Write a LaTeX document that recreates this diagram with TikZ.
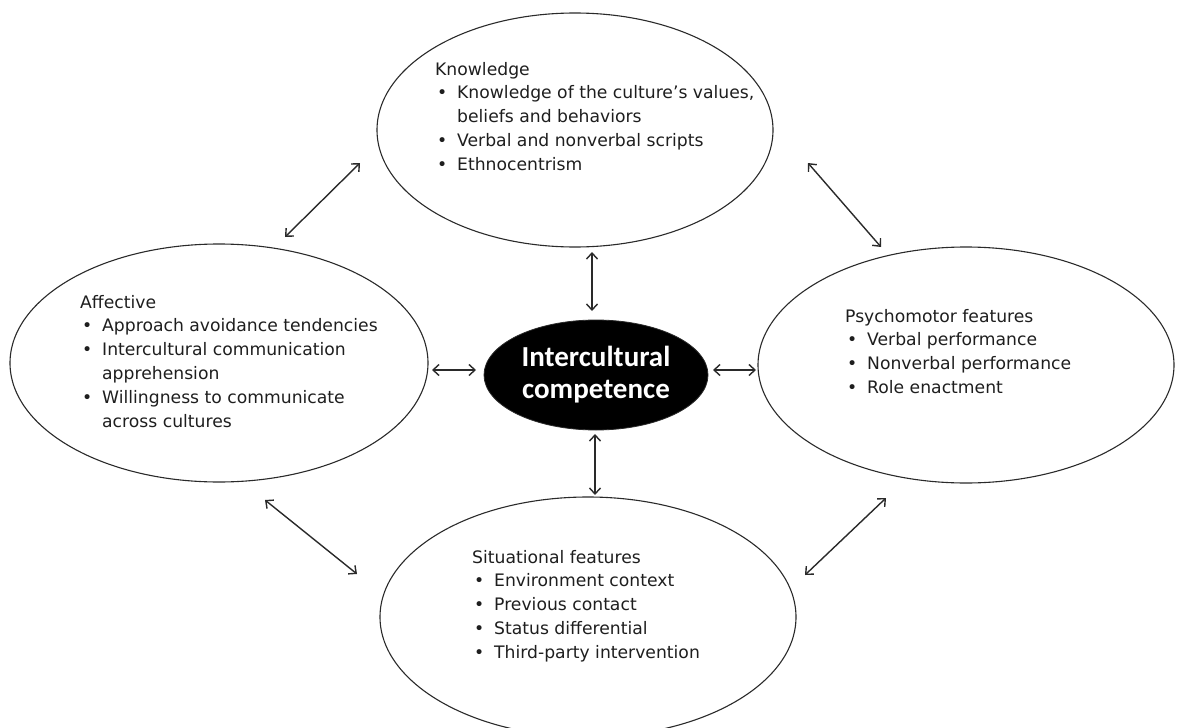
\documentclass[tikz,border=0pt]{standalone}
\usepackage{fontspec}
\setmainfont{DejaVu Sans}
\newfontfamily\corefont{Carlito}
\usetikzlibrary{shapes.geometric,arrows.meta}

\definecolor{ink}{HTML}{1E1E1E}
\definecolor{rim}{HTML}{2A2A2A}

% a heading followed by bulleted lines; the first baseline is the node's base
\newcommand\featlist[2]{%
  \begin{tabular}[t]{@{\hspace{2pt}}p{20pt}@{}l@{}}
    \multicolumn{2}{@{}l@{}}{#1}\\
    #2
  \end{tabular}}
\newcommand\bitem{\textbullet}

\tikzset{
  area/.style={draw=rim, line width=1.1pt, ellipse, inner sep=0pt},
  core/.style={ellipse, fill=black, draw=rim, line width=0.8pt, inner sep=0pt,
    minimum width=224pt, minimum height=110pt, text=white, align=center,
    font=\corefont\fontsize{29}{32}\selectfont\bfseries},
  listtext/.style={anchor=base west, inner sep=0pt, text=ink,
    font=\fontsize{17.2}{23.8}\selectfont},
  link/.style={draw=rim, line width=1.4pt,
    {Straight Barb[length=6pt,width=11pt]}-{Straight Barb[length=6pt,width=11pt]}}
}

\begin{document}
\begin{tikzpicture}[x=1pt,y=-1pt]
\useasboundingbox (0,0) rectangle (1179,728);

% surrounding areas
\node[area, minimum width=396pt, minimum height=234pt] (know) at (575,130) {};
\node[area, minimum width=418pt, minimum height=238pt] (aff)  at (219,363) {};
\node[area, minimum width=416pt, minimum height=236pt] (psy)  at (966,365) {};
\node[area, minimum width=416pt, minimum height=240pt] (sit)  at (588,617) {};

% central concept
\node[core] (core) at (596,375) {Intercultural\\competence};

% lists inside the areas
\node[listtext] (knowtxt) at (435,75) {\featlist{Knowledge}{%
  \bitem & Knowledge of the culture’s values,\\
         & beliefs and behaviors\\
  \bitem & Verbal and nonverbal scripts\\
  \bitem & Ethnocentrism\\}};
\node[listtext] (afftxt) at (80,308) {\featlist{Affective}{%
  \bitem & Approach avoidance tendencies\\
  \bitem & Intercultural communication\\
         & apprehension\\
  \bitem & Willingness to communicate\\
         & across cultures\\}};
\node[listtext] (psytxt) at (845,322) {\featlist{Psychomotor features}{%
  \bitem & Verbal performance\\
  \bitem & Nonverbal performance\\
  \bitem & Role enactment\\}};
\node[listtext] (sittxt) at (472,563) {\featlist{Situational features}{%
  \bitem & Environment context\\
  \bitem & Previous contact\\
  \bitem & Status differential\\
  \bitem & Third-party intervention\\}};

% connector end points
\coordinate (kc1) at (592,252); \coordinate (kc2) at (592,311);
\coordinate (ac1) at (432,370); \coordinate (ac2) at (476,370);
\coordinate (pc1) at (713,370); \coordinate (pc2) at (756,370);
\coordinate (sc1) at (595,434); \coordinate (sc2) at (595,495);
\coordinate (ka1) at (285,237); \coordinate (ka2) at (360,163);
\coordinate (kp1) at (808,163); \coordinate (kp2) at (881,247);
\coordinate (as1) at (265,500); \coordinate (as2) at (357,574);
\coordinate (ps1) at (805,575); \coordinate (ps2) at (886,498);

% two-way links
\draw[link] (kc1) -- (kc2);
\draw[link] (ac1) -- (ac2);
\draw[link] (pc1) -- (pc2);
\draw[link] (sc1) -- (sc2);
\draw[link] (ka1) -- (ka2);
\draw[link] (kp1) -- (kp2);
\draw[link] (as1) -- (as2);
\draw[link] (ps1) -- (ps2);
\end{tikzpicture}
\end{document}
